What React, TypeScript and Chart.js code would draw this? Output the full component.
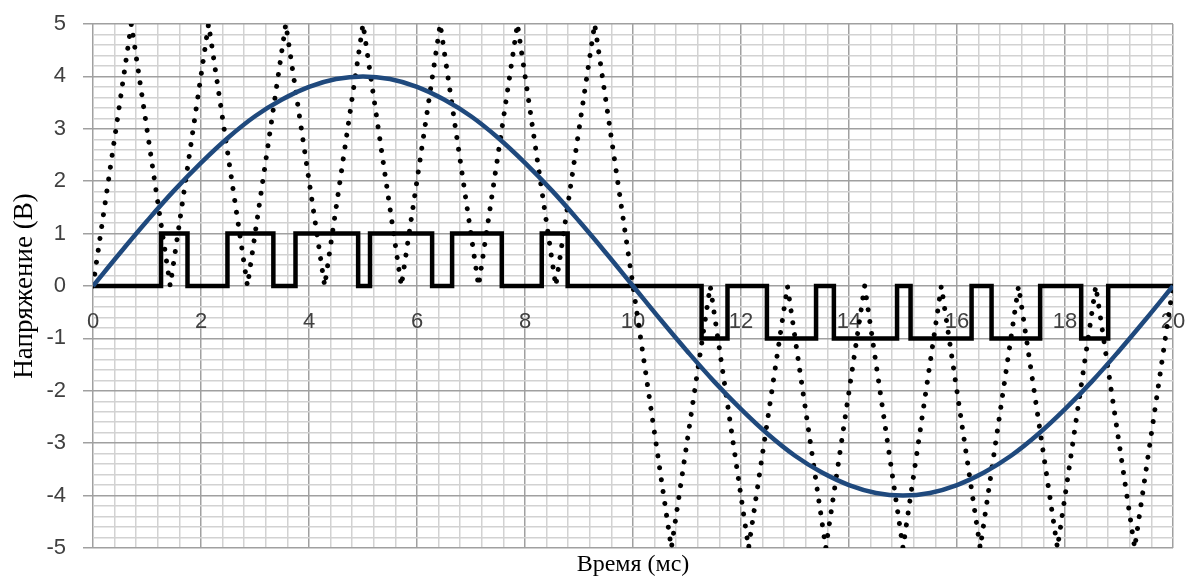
import React, { useEffect, useRef } from 'react';
import { Chart, registerables } from 'chart.js';

Chart.register(...registerables);

// Sine reference wave (time in ms, voltage in V)
const sineTimes = [
  0, 0.5, 1, 1.5, 2, 2.5, 3, 3.5, 4, 4.5, 5, 5.5, 6, 6.5, 7, 7.5, 8, 8.5, 9, 9.5,
  10, 10.5, 11, 11.5, 12, 12.5, 13, 13.5, 14, 14.5, 15, 15.5, 16, 16.5, 17, 17.5, 18, 18.5, 19, 19.5, 20,
];
const sineValues = [
  0, 0.63, 1.24, 1.82, 2.35, 2.83, 3.24, 3.56, 3.8, 3.95, 4.0, 3.95, 3.8, 3.56, 3.24, 2.83, 2.35, 1.82, 1.24, 0.63,
  0, -0.63, -1.24, -1.82, -2.35, -2.83, -3.24, -3.56, -3.8, -3.95, -4.0, -3.95, -3.8, -3.56, -3.24, -2.83, -2.35, -1.82, -1.24, -0.63, 0,
];

// Triangular carrier (dotted) vertices
const carrierTimes = [
  0, 0.71, 1.43, 2.14, 2.86, 3.57, 4.29, 5.0, 5.71, 6.43, 7.14, 7.86, 8.57, 9.29, 10.0,
  10.71, 11.43, 12.14, 12.86, 13.57, 14.29, 15.0, 15.71, 16.43, 17.14, 17.86, 18.57, 19.29, 20.0,
];
const carrierValues = [
  0, 5, 0, 5, 0, 5, 0, 5, 0, 5, 0, 5, 0, 5, 0,
  -5, 0, -5, 0, -5, 0, -5, 0, -5, 0, -5, 0, -5, 0,
];

// PWM output: level switches at these times
const pwmTimes = [
  0, 1.26, 1.75, 2.49, 3.34, 3.75, 4.91, 5.13, 6.28, 6.65, 7.57, 8.31, 8.79,
  11.27, 11.75, 12.48, 13.39, 13.72, 14.89, 15.14, 16.27, 16.64, 17.54, 18.3, 18.8, 20,
];
const pwmValues = [
  0, 1, 0, 1, 0, 1, 0, 1, 0, 1, 0, 1, 0,
  -1, 0, -1, 0, -1, 0, -1, 0, -1, 0, -1, 0, 0,
];

// Tick labels
const xLabelTicks = [0, 2, 4, 6, 8, 10, 12, 14, 16, 18, 20];
const yLabelTicks = [-5, -4, -3, -2, -1, 0, 1, 2, 3, 4, 5];

const X_MIN = 0;
const X_MAX = 20;
const X_MINOR = 0.4;
const Y_MIN = -5;
const Y_MAX = 5;
const Y_MINOR = 0.2;

const MAJOR_GRID = '#a0a0a0';
const MINOR_GRID = '#d2d2d2';
const TICK_COLOR = '#404040';

function buildGrid(min: number, max: number, step: number): number[] {
  const out: number[] = [];
  const n = Math.round((max - min) / step);
  for (let i = 0; i <= n; i++) out.push(Math.round((min + i * step) * 1000) / 1000);
  return out;
}

function inList(list: number[], v: any): boolean {
  if (typeof v !== 'number') return false;
  return list.some((t) => Math.abs(t - v) < 1e-6);
}

export default function App() {
  const ref = useRef<HTMLCanvasElement>(null);

  useEffect(() => {
    document.body.style.margin = '0';
    const canvas = ref.current;
    if (!canvas) return;
    const xGrid = buildGrid(X_MIN, X_MAX, X_MINOR);
    const yGrid = buildGrid(Y_MIN, Y_MAX, Y_MINOR);
    const tickFont = { family: '"Liberation Sans", Arial, sans-serif', size: 22 };

    const chart = new Chart(canvas, {
      type: 'line',
      data: {
        datasets: [
          {
            label: 'sine',
            data: sineTimes.map((x, i) => ({ x, y: sineValues[i] })),
            borderColor: '#1F497D',
            borderWidth: 4.5,
            pointRadius: 0,
            tension: 0.4,
            fill: false,
          },
          {
            label: 'pwm',
            data: pwmTimes.map((x, i) => ({ x, y: pwmValues[i] })),
            borderColor: '#000000',
            borderWidth: 4.5,
            pointRadius: 0,
            stepped: 'before',
            tension: 0,
            fill: false,
          },
          {
            label: 'carrier',
            data: carrierTimes.map((x, i) => ({ x, y: carrierValues[i] })),
            borderColor: '#000000',
            borderWidth: 5,
            borderDash: [0.01, 12],
            borderCapStyle: 'round',
            pointRadius: 0,
            tension: 0,
            fill: false,
          },
        ],
      },
      options: {
        animation: false,
        responsive: false,
        devicePixelRatio: 1,
        layout: { padding: { top: 24, right: 14, left: 0, bottom: 0 } },
        plugins: {
          legend: { display: false },
          tooltip: { enabled: false },
          title: {
            display: true,
            text: 'Время (мс)',
            position: 'bottom',
            fullSize: false,
            color: '#000000',
            font: { family: '"Liberation Serif", "Times New Roman", serif', size: 24, lineHeight: 1, weight: 'normal' },
            padding: { top: 5, bottom: 5 },
          },
        },
        scales: {
          x: {
            type: 'linear',
            min: X_MIN,
            max: X_MAX,
            position: { y: 0 } as any,
            afterBuildTicks: (s: any) => {
              s.ticks = xGrid.map((v) => ({ value: v }));
            },
            afterFit: (s: any) => {
              s.paddingLeft = 0;
              s.paddingRight = 0;
            },
            ticks: {
              autoSkip: false,
              maxRotation: 0,
              minRotation: 0,
              padding: 23,
              color: TICK_COLOR,
              font: tickFont,
              callback: (v: any) => (inList(xLabelTicks, v) ? String(Math.round(v)) : ''),
            },
            grid: {
              drawTicks: false,
              color: (c: any) => (inList(xLabelTicks, c.tick?.value) ? MAJOR_GRID : MINOR_GRID),
              lineWidth: 1.5,
            },
            border: { display: false },
          },
          y: {
            type: 'linear',
            min: Y_MIN,
            max: Y_MAX,
            afterBuildTicks: (s: any) => {
              s.ticks = yGrid.map((v) => ({ value: v }));
            },
            afterFit: (s: any) => {
              s.width = 93;
              s.paddingTop = 0;
              s.paddingBottom = 0;
            },
            ticks: {
              autoSkip: false,
              padding: 17,
              color: TICK_COLOR,
              font: tickFont,
              callback: (v: any) => (inList(yLabelTicks, v) ? String(Math.round(v)) : ''),
            },
            grid: {
              tickLength: 10,
              color: (c: any) => (inList(yLabelTicks, c.tick?.value) ? MAJOR_GRID : MINOR_GRID),
              tickColor: (c: any) => (inList(yLabelTicks, c.tick?.value) ? MAJOR_GRID : 'rgba(0,0,0,0)'),
              lineWidth: 1.5,
            },
            border: { display: false },
            title: {
              display: true,
              text: 'Напряжение (В)',
              color: '#000000',
              font: { family: '"Liberation Serif", "Times New Roman", serif', size: 27, lineHeight: 1.2 },
              padding: { top: 9, bottom: 0 },
            },
          },
        },
      } as any,
    });

    return () => chart.destroy();
  }, []);

  return (
    <div style={{ width: 1187, height: 582 }}>
      <canvas ref={ref} width={1187} height={582} style={{ display: 'block' }} />
    </div>
  );
}
